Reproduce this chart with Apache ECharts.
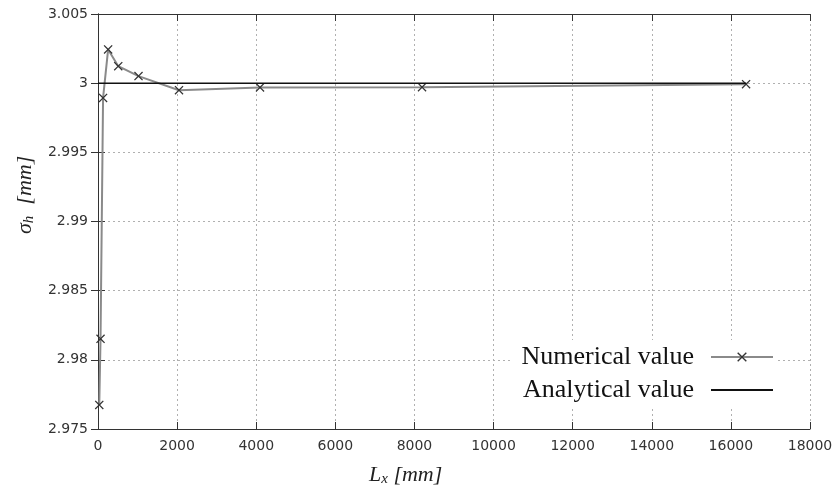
<!DOCTYPE html>
<html>
<head>
<meta charset="utf-8">
<script src="https://cdn.jsdelivr.net/npm/echarts@6/dist/echarts.min.js"></script>
<style>
  html, body { margin: 0; padding: 0; background: #fff; }
  #chart { width: 838px; height: 496px; }
</style>
</head>
<body>
<div id="chart"></div>
<script>
// Mesh length Lx [mm] and computed sigma_h [mm]
var lengths = [32, 64, 128, 256, 512, 1024, 2048, 4096, 8192, 16384];
var numericalValues = [2.97674, 2.98152, 2.99893, 3.00244, 3.00123, 3.00051, 2.99949, 2.99969, 2.99971, 2.99993];
// Closed-form reference value
var analyticalX = [0, 16384];
var analyticalValues = [3, 3];
var seriesNames = ['Numerical value', 'Analytical value'];

var xRange = { min: 0, max: 18000, interval: 2000 };
var yRange = { min: 2.975, max: 3.005, interval: 0.005 };

var crossPath = 'path://M0,1L1,0L5,4L9,0L10,1L6,5L10,9L9,10L5,6L1,10L0,9L4,5Z';

function pairs(xs, ys) {
  return xs.map(function (x, i) { return [x, ys[i]]; });
}

var labelFont = { fontFamily: 'DejaVu Sans', fontSize: 14, color: '#333' };

function mainAxis(range, pos) {
  return {
    type: 'value', position: pos,
    min: range.min, max: range.max, interval: range.interval,
    axisLine: { show: true, lineStyle: { color: '#333', width: 1 } },
    axisTick: { show: true, inside: true, length: 7, lineStyle: { color: '#333' } },
    axisLabel: Object.assign({ margin: 10, formatter: function (v) { return String(v); } }, labelFont),
    splitLine: { show: true, lineStyle: { color: '#b0b0b0', type: [2, 3], width: 1 } }
  };
}
function mirrorAxis(range, pos) {
  return {
    type: 'value', position: pos,
    min: range.min, max: range.max, interval: range.interval,
    axisLine: { show: true, lineStyle: { color: '#333', width: 1 } },
    axisTick: { show: true, inside: true, length: 7, lineStyle: { color: '#333' } },
    axisLabel: { show: false },
    splitLine: { show: false }
  };
}

var titleRich = {
  m: { fontFamily: 'Liberation Serif', fontStyle: 'italic', fontSize: 22, fill: '#222' },
  s: { fontFamily: 'Liberation Serif', fontStyle: 'italic', fontSize: 15, fill: '#222', padding: [9, 0, 0, 0] }
};

var chart = echarts.init(document.getElementById('chart'));
chart.setOption({
  backgroundColor: '#fff',
  animation: false,
  grid: { left: 98, right: 28, top: 14, bottom: 67 },
  xAxis: [mainAxis(xRange, 'bottom'), mirrorAxis(xRange, 'top')],
  yAxis: [mainAxis(yRange, 'left'), mirrorAxis(yRange, 'right')],
  legend: {
    orient: 'vertical',
    right: 62, top: 340,
    align: 'right',
    itemWidth: 62, itemHeight: 12,
    itemGap: 7,
    padding: [4, 2, 4, 10],
    backgroundColor: '#fff',
    textStyle: { fontFamily: 'Liberation Serif', fontSize: 26, lineHeight: 26, color: '#111', padding: [0, 12, 0, 0] },
    data: [
      { name: seriesNames[0] },
      { name: seriesNames[1], itemStyle: { opacity: 0 } }
    ]
  },
  graphic: [
    {
      type: 'text', left: 369, top: 464,
      style: { text: '{m|L}{s|x}{m| [mm]}', rich: titleRich }
    },
    {
      type: 'text', x: 13, y: 234, rotation: Math.PI / 2,
      style: { text: '{m|\u03c3}{s|h}{m|  [mm]}', rich: titleRich }
    }
  ],
  series: [
    {
      name: seriesNames[0], type: 'line',
      data: pairs(lengths, numericalValues),
      symbol: crossPath, symbolSize: 9,
      lineStyle: { color: '#8a8a8a', width: 2 },
      itemStyle: { color: '#333' },
      z: 3
    },
    {
      name: seriesNames[1], type: 'line',
      data: pairs(analyticalX, analyticalValues),
      symbol: 'none',
      lineStyle: { color: '#111', width: 1.5 },
      itemStyle: { color: '#111' },
      z: 4
    }
  ]
});
</script>
</body>
</html>
